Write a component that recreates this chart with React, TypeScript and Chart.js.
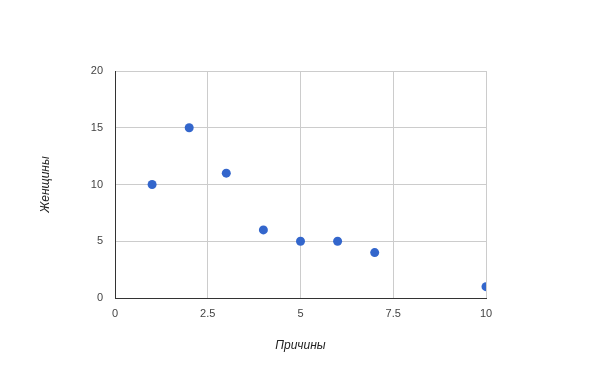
import React, { useEffect, useRef } from "react";
import { Chart, registerables } from "chart.js";

Chart.register(...registerables);

const xValues = [1, 2, 3, 4, 5, 6, 7, 10];
const yValues = [10, 15, 11, 6, 5, 5, 4, 1];
const xTitle = "Причины";
const yTitle = "Женщины";
const xTicks = [0, 2.5, 5, 7.5, 10];
const yTicks = [0, 5, 10, 15, 20];

export default function App() {
  const ref = useRef<HTMLCanvasElement>(null);
  useEffect(() => {
    if (!ref.current) return;
    const chart = new Chart(ref.current, {
      type: "scatter",
      data: {
        datasets: [
          {
            label: yTitle,
            data: xValues.map((x, i) => ({ x, y: yValues[i] })),
            backgroundColor: "#3366cc",
            borderWidth: 0,
            pointRadius: 4.5,
            pointHoverRadius: 4.5,
          },
        ],
      },
      options: {
        responsive: false,
        animation: false,
        layout: { padding: { left: 0, top: 71, right: 114, bottom: 0 } },
        plugins: { legend: { display: false }, tooltip: { enabled: false } },
        scales: {
          x: {
            type: "linear",
            min: 0,
            max: 10,
            afterFit: (s: any) => { s.height = 73; },
            afterBuildTicks: (s: any) => { s.ticks = xTicks.map((v) => ({ value: v })); },
            ticks: {
              color: "#444",
              font: { family: "Liberation Sans, Arial", size: 11 },
              padding: 9,
              maxRotation: 0,
              callback: (v: any) => String(v),
            },
            grid: { color: "#cccccc", drawTicks: false, lineWidth: 1 },
            border: { color: "#333333", width: 1 },
            title: {
              display: true,
              text: xTitle,
              color: "#222",
              font: { family: "Liberation Sans, Arial", size: 12, style: "italic" },
              padding: { top: 0, bottom: 18 },
            },
          },
          y: {
            type: "linear",
            min: 0,
            max: 20,
            afterFit: (s: any) => { s.width = 115; },
            afterBuildTicks: (s: any) => { s.ticks = yTicks.map((v) => ({ value: v })); },
            ticks: {
              color: "#444",
              font: { family: "Liberation Sans, Arial", size: 11 },
              padding: 12,
              callback: (v: any) => String(v),
            },
            grid: { color: "#cccccc", drawTicks: false, lineWidth: 1 },
            border: { color: "#333333", width: 1 },
            title: {
              display: true,
              text: yTitle,
              color: "#222",
              font: { family: "Liberation Sans, Arial", size: 12, style: "italic" },
              padding: { top: 38, bottom: 0 },
            },
          },
        },
      },
    });
    return () => chart.destroy();
  }, []);
  return (
    <div style={{ position: "absolute", left: 0, top: 0, width: 600, height: 371, background: "#fff" }}>
      <canvas ref={ref} width={600} height={371} />
    </div>
  );
}
